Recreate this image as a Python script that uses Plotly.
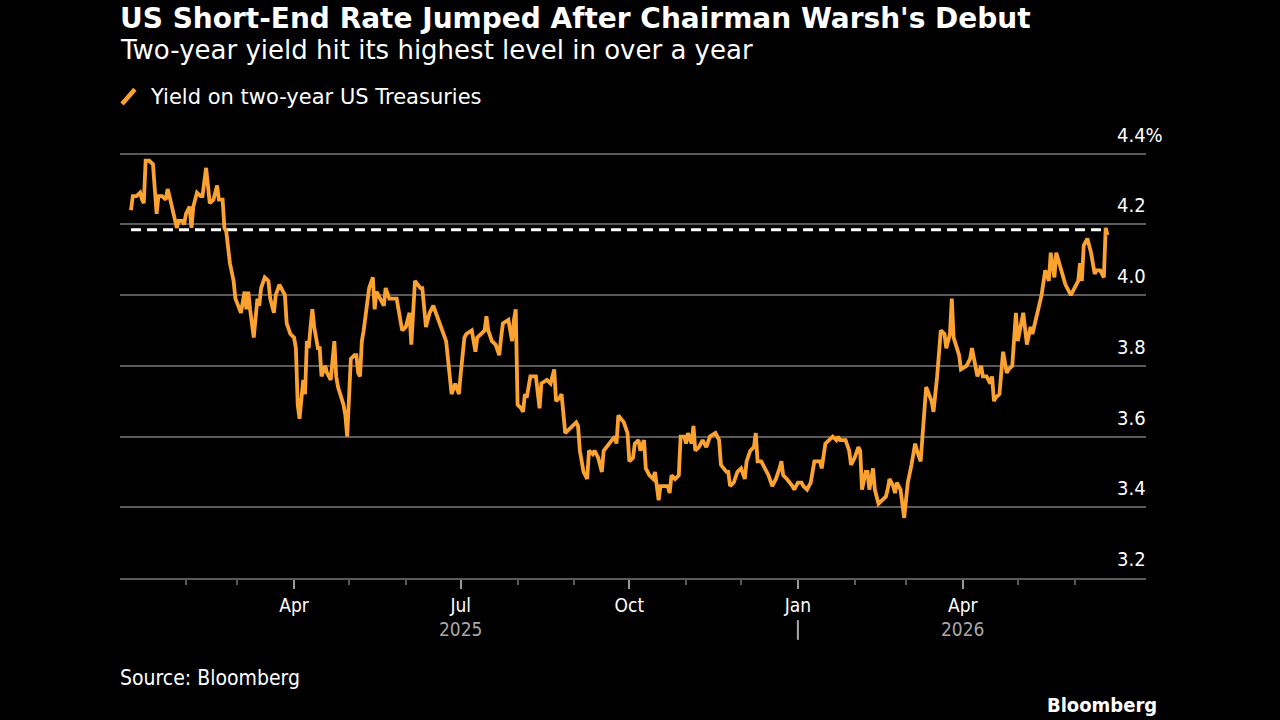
import pandas as pd
import plotly.graph_objects as go

# ---------------- data ----------------
base_date = "2025-01-01"
day_offsets = [
    1, 2, 4, 6, 7, 8, 9, 11, 13, 15, 16, 18, 20, 21, 22, 26, 27, 29, 30, 31,
    33, 34, 35, 37, 39, 40, 42, 43, 44, 46, 48, 49, 51, 52, 53, 55, 57, 58, 61, 62,
    63, 64, 65, 66, 68, 70, 71, 72, 74, 76, 77, 79, 80, 82, 83, 85, 86, 88, 90, 91,
    92, 93, 95, 96, 97, 98, 99, 100, 101, 103, 104, 105, 107, 108, 110, 112, 113, 114, 117, 118,
    119, 121, 123, 124, 125, 126, 127, 128, 131, 133, 134, 135, 137, 139, 140, 142, 146, 149, 151, 153,
    154, 156, 159, 160, 162, 164, 166, 169, 173, 174, 176, 178, 180, 181, 183, 184, 187, 189, 190, 194,
    195, 196, 198, 200, 202, 203, 204, 207, 209, 210, 211, 212, 214, 215, 216, 217, 219, 221, 222, 224,
    225, 228, 230, 232, 233, 235, 236, 238, 240, 242, 244, 245, 246, 248, 250, 251, 253, 254, 256, 258,
    259, 262, 265, 266, 267, 270, 272, 273, 275, 276, 278, 279, 281, 282, 284, 286, 287, 289, 290, 292,
    294, 295, 296, 298, 300, 301, 303, 304, 305, 307, 308, 309, 311, 313, 315, 317, 320, 322, 323, 326,
    327, 328, 330, 332, 334, 336, 337, 339, 341, 342, 343, 345, 347, 349, 351, 353, 355, 356, 357, 359,
    362, 363, 365, 367, 368, 370, 372, 374, 376, 377, 378, 380, 382, 384, 386, 387, 388, 389, 391, 393,
    394, 396, 398, 399, 400, 402, 403, 404, 406, 407, 409, 411, 413, 414, 415, 417, 418, 419, 421, 423,
    425, 427, 429, 430, 432, 435, 438, 439, 441, 443, 445, 446, 448, 449, 450, 453, 454, 457, 459, 460,
    462, 463, 465, 466, 468, 470, 471, 472, 473, 475, 476, 477, 479, 480, 482, 484, 485, 486, 488, 490,
    492, 493, 496, 497, 498, 500, 502, 503, 505, 506, 508, 510, 511, 514, 516, 518, 519, 520, 521, 523,
    525, 526, 527, 528, 530, 532, 533, 534,
]
yield_2y = [
    4.24, 4.28, 4.28, 4.29, 4.27, 4.26, 4.38, 4.38, 4.37, 4.23, 4.28, 4.28, 4.27, 4.30, 4.28, 4.19, 4.21, 4.21, 4.20, 4.23,
    4.25, 4.19, 4.25, 4.29, 4.28, 4.28, 4.36, 4.32, 4.26, 4.27, 4.31, 4.27, 4.27, 4.19, 4.18, 4.09, 4.04, 3.99, 3.95, 3.98,
    4.01, 3.96, 4.01, 3.96, 3.88, 3.99, 3.97, 4.02, 4.05, 4.04, 3.99, 3.95, 4.00, 4.03, 4.02, 4.00, 3.92, 3.89, 3.88, 3.85,
    3.69, 3.65, 3.76, 3.72, 3.87, 3.85, 3.91, 3.96, 3.91, 3.85, 3.85, 3.77, 3.80, 3.78, 3.76, 3.87, 3.77, 3.74, 3.69, 3.66,
    3.60, 3.82, 3.83, 3.83, 3.78, 3.77, 3.87, 3.90, 4.02, 4.05, 3.96, 4.01, 3.99, 3.97, 4.02, 3.99, 3.99, 3.90, 3.91, 3.95,
    3.86, 4.04, 4.02, 4.02, 3.91, 3.95, 3.97, 3.93, 3.87, 3.82, 3.72, 3.75, 3.72, 3.78, 3.88, 3.89, 3.90, 3.84, 3.88, 3.90,
    3.94, 3.90, 3.87, 3.86, 3.83, 3.88, 3.92, 3.93, 3.87, 3.93, 3.96, 3.69, 3.68, 3.67, 3.72, 3.71, 3.77, 3.77, 3.77, 3.68,
    3.75, 3.76, 3.75, 3.79, 3.70, 3.71, 3.72, 3.61, 3.62, 3.63, 3.64, 3.63, 3.56, 3.50, 3.48, 3.56, 3.55, 3.56, 3.54, 3.50,
    3.56, 3.58, 3.60, 3.58, 3.66, 3.64, 3.61, 3.53, 3.54, 3.58, 3.59, 3.56, 3.59, 3.51, 3.49, 3.48, 3.50, 3.42, 3.46, 3.46,
    3.46, 3.44, 3.49, 3.48, 3.49, 3.60, 3.60, 3.58, 3.61, 3.58, 3.63, 3.56, 3.57, 3.59, 3.57, 3.60, 3.61, 3.59, 3.52, 3.50,
    3.50, 3.46, 3.47, 3.50, 3.51, 3.48, 3.53, 3.56, 3.57, 3.61, 3.53, 3.53, 3.51, 3.49, 3.46, 3.48, 3.51, 3.53, 3.49, 3.48,
    3.46, 3.45, 3.47, 3.47, 3.46, 3.45, 3.47, 3.53, 3.53, 3.53, 3.51, 3.58, 3.59, 3.60, 3.59, 3.60, 3.59, 3.59, 3.59, 3.56,
    3.52, 3.54, 3.57, 3.56, 3.45, 3.50, 3.50, 3.45, 3.51, 3.45, 3.41, 3.42, 3.43, 3.45, 3.48, 3.46, 3.44, 3.47, 3.45, 3.37,
    3.47, 3.52, 3.58, 3.56, 3.53, 3.74, 3.70, 3.67, 3.77, 3.90, 3.89, 3.85, 3.89, 3.99, 3.88, 3.83, 3.79, 3.80, 3.82, 3.85,
    3.79, 3.77, 3.80, 3.77, 3.77, 3.75, 3.77, 3.70, 3.71, 3.72, 3.78, 3.84, 3.78, 3.79, 3.80, 3.95, 3.87, 3.90, 3.95, 3.86,
    3.91, 3.89, 3.96, 3.98, 4.00, 4.07, 4.04, 4.12, 4.05, 4.12, 4.08, 4.04, 4.03, 4.00, 4.02, 4.04, 4.09, 4.04, 4.14, 4.16,
    4.12, 4.09, 4.06, 4.07, 4.07, 4.05, 4.19, 4.17,
]
reference_level = 4.185

x_range = ["2024-12-27", "2026-07-10"]
y_range = [3.2, 4.467]
y_ticks = [3.2, 3.4, 3.6, 3.8, 4.0, 4.2, 4.4]
y_tick_text = ["3.2", "3.4", "3.6", "3.8", "4.0", "4.2", "4.4%"]
major_ticks = ["2025-04-01", "2025-07-01", "2025-10-01", "2026-01-01", "2026-04-01"]
major_labels = ["Apr", "Jul", "Oct", "Jan", "Apr"]
minor_ticks = ["2025-02-01", "2025-03-01", "2025-05-01", "2025-06-01", "2025-08-01",
               "2025-09-01", "2025-11-01", "2025-12-01", "2026-02-01", "2026-03-01",
               "2026-05-01", "2026-06-01"]
year_label_pos = ["2025-07-01", "2026-04-01"]
year_labels = ["2025", "2026"]
year_separator = "2026-01-01"

title = "US Short-End Rate Jumped After Chairman Warsh's Debut"
subtitle = "Two-year yield hit its highest level in over a year"
series_name = "Yield on two-year US Treasuries"
source = "Source: Bloomberg"
brand = "Bloomberg"

# ---------------- figure ----------------
dates = pd.Timestamp(base_date) + pd.to_timedelta(day_offsets, unit="D")

ORANGE = "#FBA231"
GRID = "#5a5a5a"
FONT = "DejaVu Sans Condensed, DejaVu Sans, sans-serif"
WIDE = "DejaVu Sans, sans-serif"

fig = go.Figure()
fig.add_trace(go.Scatter(
    x=[dates[0], dates[-1]], y=[reference_level, reference_level],
    mode="lines", line=dict(color="white", width=3, dash="10px,6px"),
    hoverinfo="skip", showlegend=False,
))
fig.add_trace(go.Scatter(
    x=dates, y=yield_2y, mode="lines", name=series_name,
    line=dict(color=ORANGE, width=3.8), showlegend=False,
))

annotations = []
for v, t in zip(y_ticks, y_tick_text):
    annotations.append(dict(
        x=1, xref="paper", y=v, yref="y", text=t, showarrow=False,
        xanchor="left", xshift=-31, yanchor="middle", yshift=19,
        font=dict(size=20, color="white", family=FONT),
    ))
for d, t in zip(year_label_pos, year_labels):
    annotations.append(dict(
        x=d, xref="x", y=-0.114, yref="paper", text=t, showarrow=False,
        xanchor="center", yanchor="middle",
        font=dict(size=19, color="#a8a8a8", family=FONT),
    ))
annotations += [
    dict(x=0, xref="paper", y=1.25, yref="paper", text=f"<b>{title}</b>", showarrow=False,
         xanchor="left", xshift=-2, yanchor="middle", font=dict(size=28, color="white", family=WIDE)),
    dict(x=0, xref="paper", y=1.179, yref="paper", text=subtitle, showarrow=False,
         xanchor="left", xshift=-2, yanchor="middle", font=dict(size=26, color="white", family=WIDE)),
    dict(x=0, xref="paper", y=1.074, yref="paper", text=series_name, showarrow=False,
         xanchor="left", xshift=28, yanchor="middle", font=dict(size=21, color="white", family=WIDE)),
    dict(x=0, xref="paper", y=-0.223, yref="paper", text=source, showarrow=False,
         xanchor="left", xshift=-2, yanchor="middle", font=dict(size=21, color="white", family=FONT)),
    dict(x=1, xref="paper", y=-0.2835, yref="paper", text=f"<b>{brand}</b>", showarrow=False,
         xanchor="right", xshift=13, yanchor="middle", font=dict(size=20, color="white", family=FONT)),
]

shapes = [
    # legend slash icon
    dict(type="line", xref="paper", yref="paper", x0=0.002, y0=1.058, x1=0.0145, y1=1.091,
         line=dict(color=ORANGE, width=4.5)),
    # year separator under Jan
    dict(type="line", xref="x", yref="paper", x0=year_separator, x1=year_separator,
         y0=-0.094, y1=-0.138, line=dict(color="#a8a8a8", width=2)),
]

fig.update_layout(
    width=1280, height=720,
    paper_bgcolor="black", plot_bgcolor="black",
    margin=dict(l=120, r=134, t=130, b=142),
    showlegend=False,
    annotations=annotations, shapes=shapes,
    font=dict(family=FONT, color="white"),
    xaxis=dict(
        type="date", range=x_range,
        showgrid=False, zeroline=False,
        showline=True, linecolor=GRID, linewidth=2,
        tickmode="array", tickvals=major_ticks, ticktext=major_labels,
        ticks="outside", ticklen=9, tickwidth=2, tickcolor="#9a9a9a",
        tickfont=dict(size=19, color="white", family=FONT),
        minor=dict(tickmode="array", tickvals=minor_ticks, ticks="outside",
                   ticklen=5, tickwidth=1.5, tickcolor=GRID, showgrid=False),
    ),
    yaxis=dict(
        range=y_range, side="right",
        tickmode="array", tickvals=y_ticks,
        showticklabels=False, ticks="",
        showgrid=True, gridcolor=GRID, gridwidth=2,
        zeroline=False, showline=False,
    ),
)

fig.write_html("out.html")
